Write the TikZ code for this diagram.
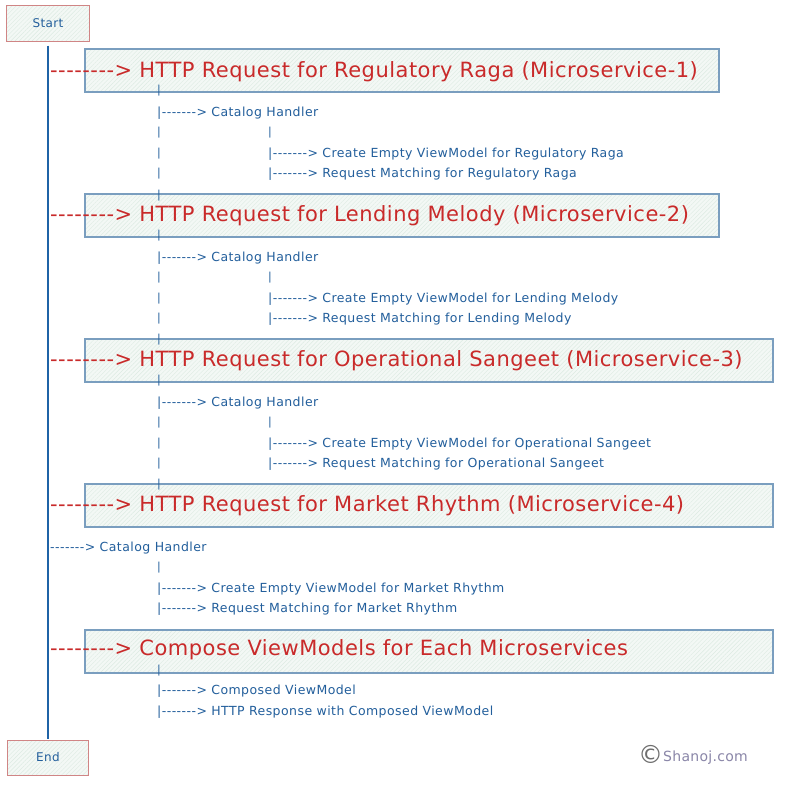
\documentclass[tikz,border=0pt]{standalone}
\usepackage{fontspec}
\setmainfont{DejaVu Sans}[Ligatures=TeXOff]
\usetikzlibrary{patterns.meta}
\definecolor{redtxt}{HTML}{C92A2A}
\definecolor{bluetxt}{HTML}{235F9C}
\definecolor{spinecol}{HTML}{1F63A6}
\definecolor{boxedge}{HTML}{7A9EBF}
\definecolor{endedge}{HTML}{D08585}
\definecolor{boxfill}{HTML}{F3F8F5}
\definecolor{hatchcol}{HTML}{DCEBE2}
\definecolor{graytxt}{HTML}{8A86A8}
\definecolor{copycol}{HTML}{6E6E6E}
\tikzset{
  hatched/.style={preaction={fill=boxfill},
    pattern={Lines[angle=45,distance=3pt,line width=0.4pt]}, pattern color=hatchcol},
  secbox/.style={hatched, draw=boxedge, line width=1.1pt, inner sep=0pt, minimum height=43pt},
  termbox/.style={hatched, draw=endedge, line width=1pt, inner sep=0pt, text=bluetxt, font=\fontsize{12}{14}\selectfont\addfontfeature{LetterSpace=3}},
  title/.style={anchor=west, inner sep=0pt, text=redtxt, font=\fontsize{21}{25}\selectfont\addfontfeature{LetterSpace=2.3}},
  sub/.style={anchor=west, inner sep=0pt, text=bluetxt, font=\fontsize{12.5}{15}\selectfont\addfontfeature{LetterSpace=3.5}},
  tick/.style={anchor=center, inner sep=0pt, text=bluetxt, font=\fontsize{11}{13}\selectfont},
  spine/.style={draw=spinecol, line width=2.6pt},
}
\begin{document}
\begin{tikzpicture}[x=1pt,y=-1pt]
\useasboundingbox (0,0) rectangle (800,790);
\fill[white] (0,0) rectangle (800,790);

% start / end
\node[termbox, minimum width=83pt, minimum height=36pt] (start) at (48,23) {Start};
\node[termbox, minimum width=81pt, minimum height=35pt] (end) at (48,757.5) {End};

% section boxes
\node[secbox, minimum width=634pt] (b1) at (402,70.5) {};
\node[secbox, minimum width=634pt] (b2) at (402,215.5) {};
\node[secbox, minimum width=688pt] (b3) at (429,360.5) {};
\node[secbox, minimum width=688pt] (b4) at (429,505.5) {};
\node[secbox, minimum width=688pt] (b5) at (429,651.5) {};

% spine
\draw[spine, shorten <=4pt, shorten >=1pt] (start.south) -- (end.north);

% titles
\node[title] (t1) at (50,72) {--------> HTTP Request for Regulatory Raga (Microservice-1)};
\node[title] (t2) at (50,216) {--------> HTTP Request for Lending Melody (Microservice-2)};
\node[title] (t3) at (50,361) {--------> HTTP Request for Operational Sangeet (Microservice-3)};
\node[title] (t4) at (50,506) {--------> HTTP Request for Market Rhythm (Microservice-4)};
\node[title] (t5) at (50,650) {--------> Compose ViewModels for Each Microservices};

% section 1
\node[tick] (s1a) at (159,91) {|};
\node[sub] (s1b) at (157,113) {|-------> Catalog Handler};
\node[tick] (s1c) at (159,133) {|};
\node[tick] (s1d) at (270,133) {|};
\node[tick] (s1e) at (159,154) {|};
\node[sub] (s1f) at (268,154) {|-------> Create Empty ViewModel for Regulatory Raga};
\node[tick] (s1g) at (159,174) {|};
\node[sub] (s1h) at (268,174) {|-------> Request Matching for Regulatory Raga};
\node[tick] (s1i) at (159,196) {|};

% section 2
\node[tick] (s2a) at (159,236) {|};
\node[sub] (s2b) at (157,258) {|-------> Catalog Handler};
\node[tick] (s2c) at (159,278) {|};
\node[tick] (s2d) at (270,278) {|};
\node[tick] (s2e) at (159,299) {|};
\node[sub] (s2f) at (268,299) {|-------> Create Empty ViewModel for Lending Melody};
\node[tick] (s2g) at (159,319) {|};
\node[sub] (s2h) at (268,319) {|-------> Request Matching for Lending Melody};
\node[tick] (s2i) at (159,340) {|};

% section 3
\node[tick] (s3a) at (159,381) {|};
\node[sub] (s3b) at (157,403) {|-------> Catalog Handler};
\node[tick] (s3c) at (159,423) {|};
\node[tick] (s3d) at (270,423) {|};
\node[tick] (s3e) at (159,444) {|};
\node[sub] (s3f) at (268,444) {|-------> Create Empty ViewModel for Operational Sangeet};
\node[tick] (s3g) at (159,464) {|};
\node[sub] (s3h) at (268,464) {|-------> Request Matching for Operational Sangeet};
\node[tick] (s3i) at (159,485) {|};

% section 4
\node[sub] (s4b) at (50,548) {-------> Catalog Handler};
\node[tick] (s4c) at (159,568) {|};
\node[sub] (s4f) at (157,589) {|-------> Create Empty ViewModel for Market Rhythm};
\node[sub] (s4h) at (157,609) {|-------> Request Matching for Market Rhythm};

% section 5
\node[tick] (s5a) at (159,671) {|};
\node[sub] (s5b) at (157,691) {|-------> Composed ViewModel};
\node[sub] (s5c) at (157,712) {|-------> HTTP Response with Composed ViewModel};

% credit
\node[anchor=west, inner sep=0pt, text=graytxt, font=\fontsize{14}{16}\selectfont\addfontfeature{LetterSpace=2}] (credit) at (638,755) {{\color{copycol}\fontsize{25}{25}\selectfont\raisebox{-2.5pt}{©}}Shanoj.com};
\end{tikzpicture}
\end{document}
